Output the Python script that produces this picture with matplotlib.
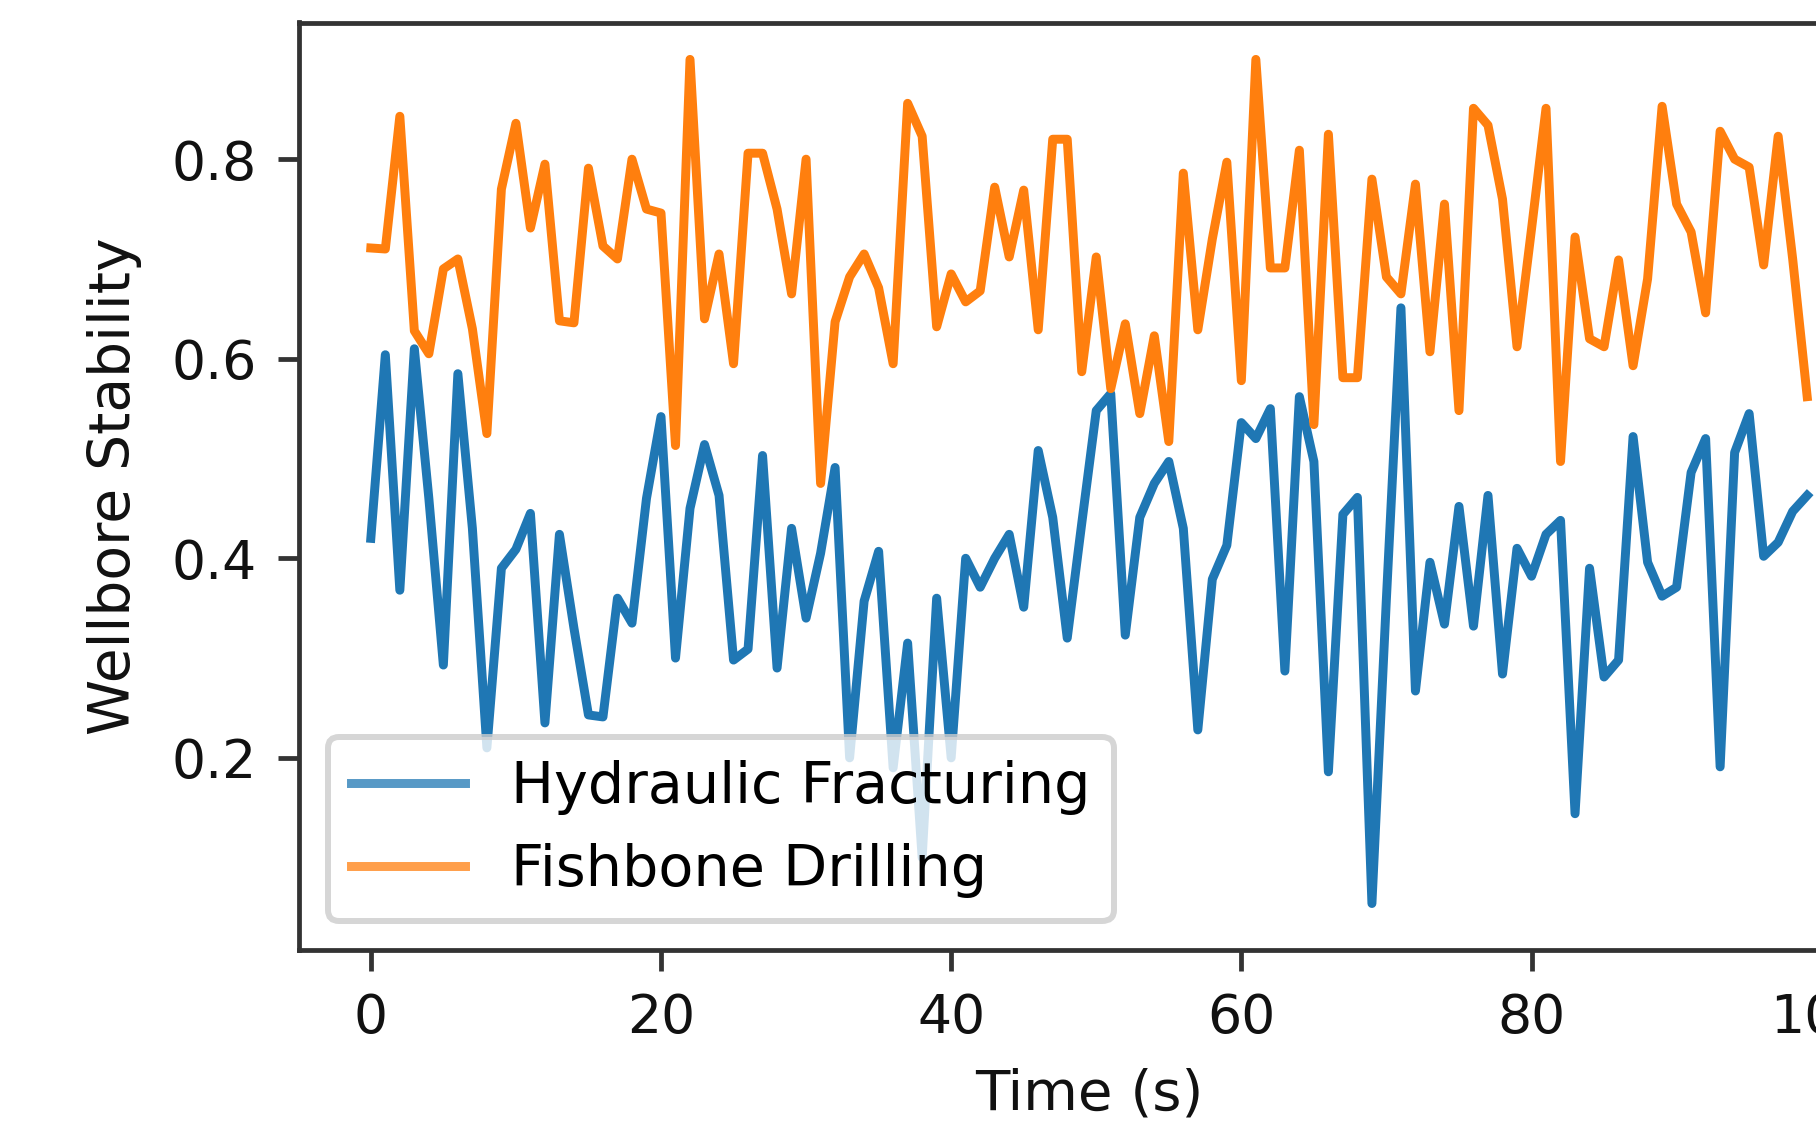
import matplotlib
matplotlib.use("Agg")
import matplotlib.pyplot as plt
import numpy as np

time_s = list(range(100))

hydraulic_fracturing = [
    0.42, 0.604, 0.368, 0.61, 0.46, 0.293, 0.585, 0.43, 0.21, 0.39,
    0.409, 0.445, 0.235, 0.424, 0.33, 0.243, 0.241, 0.36, 0.335, 0.46,
    0.542, 0.30, 0.45, 0.514, 0.463, 0.298, 0.309, 0.503, 0.29, 0.43,
    0.34, 0.405, 0.491, 0.20, 0.357, 0.407, 0.19, 0.315, 0.10, 0.36,
    0.20, 0.40, 0.371, 0.40, 0.424, 0.351, 0.508, 0.441, 0.32, 0.435,
    0.548, 0.565, 0.323, 0.441, 0.475, 0.497, 0.43, 0.228, 0.379, 0.413,
    0.536, 0.52, 0.55, 0.287, 0.562, 0.497, 0.186, 0.444, 0.461, 0.054,
    0.36, 0.651, 0.267, 0.396, 0.334, 0.452, 0.332, 0.463, 0.284, 0.41,
    0.382, 0.424, 0.438, 0.144, 0.39, 0.281, 0.298, 0.522, 0.396, 0.362,
    0.371, 0.486, 0.52, 0.191, 0.506, 0.545, 0.402, 0.416, 0.447, 0.463,
]

fishbone_drilling = [
    0.711, 0.71, 0.843, 0.628, 0.605, 0.69, 0.70, 0.63, 0.525, 0.77,
    0.836, 0.731, 0.795, 0.638, 0.636, 0.791, 0.713, 0.70, 0.80, 0.75,
    0.746, 0.513, 0.90, 0.640, 0.705, 0.595, 0.806, 0.806, 0.75, 0.665,
    0.80, 0.475, 0.637, 0.682, 0.705, 0.671, 0.595, 0.856, 0.823, 0.632,
    0.685, 0.657, 0.668, 0.772, 0.702, 0.769, 0.629, 0.82, 0.82, 0.587,
    0.702, 0.57, 0.635, 0.545, 0.623, 0.517, 0.786, 0.629, 0.72, 0.797,
    0.578, 0.90, 0.691, 0.691, 0.809, 0.534, 0.825, 0.581, 0.581, 0.78,
    0.682, 0.665, 0.775, 0.607, 0.755, 0.548, 0.851, 0.834, 0.76, 0.612,
    0.73, 0.851, 0.497, 0.722, 0.62, 0.612, 0.699, 0.593, 0.68, 0.853,
    0.755, 0.727, 0.646, 0.828, 0.80, 0.792, 0.694, 0.823, 0.70, 0.562,
]

series_labels = ["Hydraulic Fracturing", "Fishbone Drilling"]
x_label = "Time (s)"
y_label = "Wellbore Stability"

DPI = 430
fig = plt.figure(figsize=(1816 / DPI, 1130 / DPI), dpi=DPI)
# axes deliberately extends past the right edge (reference is cropped)
ax = fig.add_axes([299 / 1816, (1130 - 950) / 1130, 1580 / 1816, 927.5 / 1130])

ax.plot(time_s, hydraulic_fracturing, color="#1f77b4", lw=1.5, label=series_labels[0])
ax.plot(time_s, fishbone_drilling, color="#ff7f0e", lw=1.5, label=series_labels[1])

ax.set_ylim(0.0074, 0.937)
ax.set_yticks([0.2, 0.4, 0.6, 0.8])
ax.set_xticks([0, 20, 40, 60, 80, 100])

for sp in ax.spines.values():
    sp.set_color("#333333")
ax.tick_params(colors="#333333", labelcolor="#111111", labelsize=9.0)

ax.set_xlabel(x_label, color="#111111", fontsize=9.4)
ax.set_ylabel(y_label, color="#111111", fontsize=9.5, labelpad=5)

leg = ax.legend(loc="lower left", prop={"size": 9.6})
for h in leg.get_lines():
    h.set_alpha(0.75)

fig.savefig("out.png", dpi=DPI)
